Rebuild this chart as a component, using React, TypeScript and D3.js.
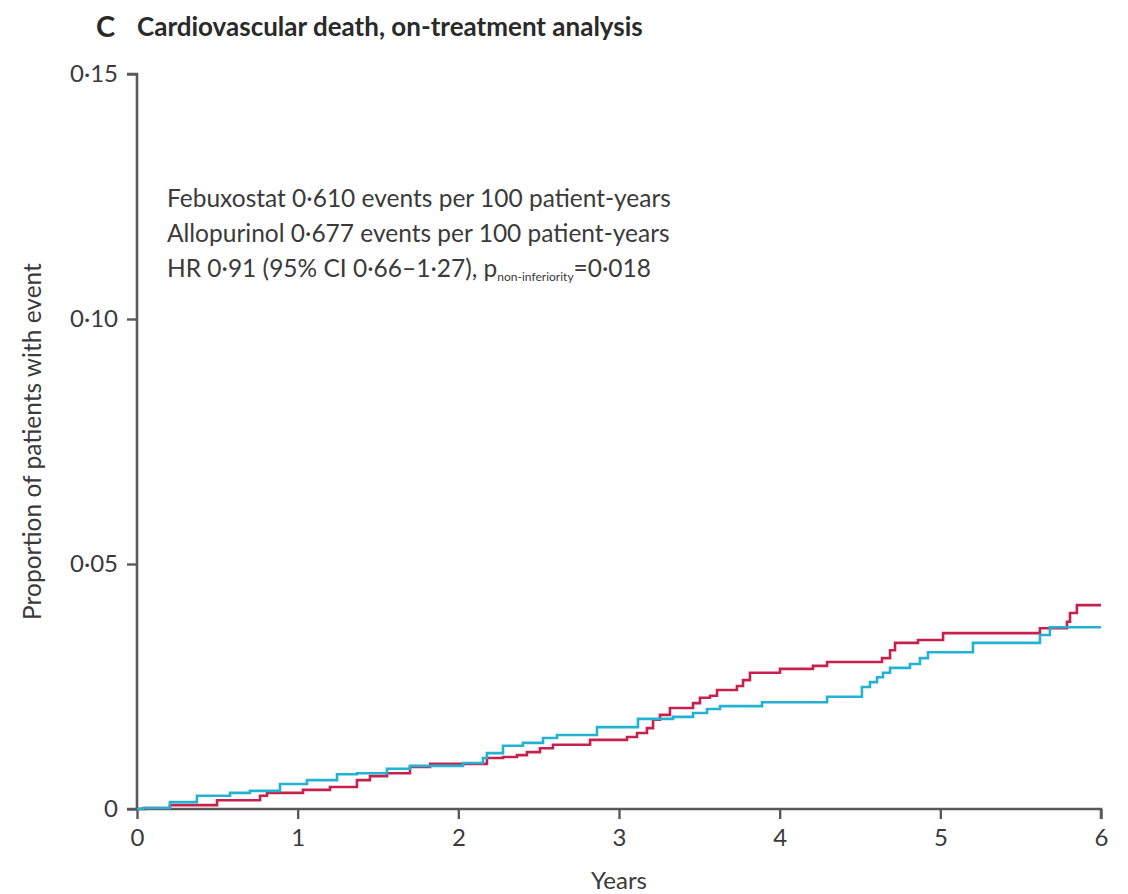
import React, { useEffect, useRef } from "react";
import * as d3 from "d3";

// Cumulative proportion with event (step points: [years, proportion])
const febuxostatYears = [0, 0.037, 0.205, 0.373, 0.579, 0.703, 0.89, 1.058, 1.245, 1.369, 1.556, 1.699, 2.029, 2.153, 2.178, 2.278, 2.402, 2.527, 2.614, 2.863, 3.118, 3.336, 3.461, 3.548, 3.629, 3.89, 4.295, 4.512, 4.562, 4.606, 4.643, 4.687, 4.811, 4.873, 4.923, 5.203, 5.62, 5.682, 6.0];
const febuxostatValues = [0, 0.0002, 0.0014, 0.0027, 0.0033, 0.0037, 0.0051, 0.0059, 0.0071, 0.0073, 0.0082, 0.0088, 0.0094, 0.0104, 0.0114, 0.0129, 0.0135, 0.0145, 0.0151, 0.0167, 0.0184, 0.0188, 0.0196, 0.0204, 0.021, 0.0218, 0.0229, 0.0249, 0.0259, 0.0269, 0.0278, 0.0288, 0.0296, 0.0308, 0.032, 0.0339, 0.0355, 0.0371, 0.0371];

const allopurinolYears = [0, 0.05, 0.205, 0.498, 0.766, 0.809, 1.033, 1.201, 1.369, 1.45, 1.556, 1.699, 1.824, 2.178, 2.278, 2.365, 2.427, 2.508, 2.589, 2.82, 3.05, 3.112, 3.174, 3.212, 3.255, 3.317, 3.461, 3.504, 3.566, 3.61, 3.734, 3.772, 3.815, 4.002, 4.207, 4.295, 4.637, 4.687, 4.718, 4.861, 5.017, 5.62, 5.788, 5.807, 5.85, 6.0];
const allopurinolValues = [0, 0.0002, 0.0008, 0.0018, 0.0027, 0.0033, 0.0039, 0.0045, 0.0059, 0.0067, 0.0073, 0.0086, 0.0092, 0.0104, 0.0106, 0.011, 0.0116, 0.0124, 0.0131, 0.0141, 0.0147, 0.0155, 0.0165, 0.0182, 0.0192, 0.0206, 0.0216, 0.0227, 0.0231, 0.0243, 0.0251, 0.0263, 0.0278, 0.0286, 0.0292, 0.03, 0.0308, 0.0324, 0.0339, 0.0345, 0.0359, 0.0369, 0.0382, 0.04, 0.0416, 0.0416];

const xTicks = [0, 1, 2, 3, 4, 5, 6];
const yTicks = [0, 0.05, 0.1, 0.15];
const yTickLabels = ["0", "0·05", "0·10", "0·15"];

const annotationLines = [
  "Febuxostat 0·610 events per 100 patient-years",
  "Allopurinol 0·677 events per 100 patient-years",
];

const W = 1128;
const H = 894;
const FONT = "Lato, 'Open Sans', sans-serif";
const AXIS = "#595959";
const TEXT = "#3a3a3a";
const RED = "#c8204c";
const CYAN = "#24b2d3";

export default function App() {
  const ref = useRef<SVGSVGElement | null>(null);

  useEffect(() => {
    const svg = d3.select(ref.current);
    svg.selectAll("*").remove();

    const x = d3.scaleLinear().domain([0, 6]).range([137, 1101]);
    const y = d3.scaleLinear().domain([0, 0.15]).range([809, 74]);

    svg.append("rect").attr("width", W).attr("height", H).attr("fill", "#fff");

    // Panel letter and title
    svg.append("text").attr("x", 96).attr("y", 37).attr("font-family", FONT)
      .attr("font-size", 29).attr("font-weight", 700).attr("fill", "#2a2a2a").text("C");
    svg.append("text").attr("x", 137).attr("y", 36).attr("font-family", FONT)
      .attr("font-size", 26).attr("font-weight", 700).attr("fill", "#2a2a2a")
      .text("Cardiovascular death, on-treatment analysis");

    // Y axis
    const yAxis = d3.axisLeft(y).tickValues(yTicks).tickSize(10).tickFormat((_, i) => yTickLabels[i]);
    const gy = svg.append("g").attr("transform", `translate(${x(0)},0)`).call(yAxis);
    gy.select(".domain").attr("stroke", AXIS).attr("stroke-width", 2.6).attr("d", `M-10,${y(0.15)}H0V${y(0)}`);
    gy.selectAll(".tick line").attr("stroke", AXIS).attr("stroke-width", 2.4);
    gy.selectAll(".tick text").attr("font-family", FONT).attr("font-size", 24).attr("fill", TEXT).attr("x", -19);

    // X axis
    const xAxis = d3.axisBottom(x).tickValues(xTicks).tickSize(10).tickFormat(d3.format("d"));
    const gx = svg.append("g").attr("transform", `translate(0,${y(0)})`).call(xAxis);
    gx.select(".domain").attr("stroke", AXIS).attr("stroke-width", 2.6).attr("d", `M${x(0) - 10},0H${x(6)}V10`);
    gx.selectAll(".tick line").attr("stroke", AXIS).attr("stroke-width", 2.4);
    gx.selectAll(".tick text").attr("font-family", FONT).attr("font-size", 24).attr("fill", TEXT)
      .attr("y", 37).attr("dy", null);

    // Axis titles
    svg.append("text").attr("x", x(3)).attr("y", 889).attr("text-anchor", "middle")
      .attr("font-family", FONT).attr("font-size", 24).attr("fill", TEXT).text("Years");
    svg.append("text").attr("transform", `translate(41,${(258 + 625) / 2}) rotate(-90)`).attr("text-anchor", "middle")
      .attr("font-family", FONT).attr("font-size", 24.5).attr("fill", TEXT).text("Proportion of patients with event");

    // Rates and hazard ratio
    annotationLines.forEach((t, i) => {
      svg.append("text").attr("x", 167).attr("y", 207 + i * 35).attr("font-family", FONT)
        .attr("font-size", 24.5).attr("fill", TEXT).text(t);
    });
    const hr = svg.append("text").attr("x", 167).attr("y", 277).attr("font-family", FONT).attr("font-size", 24.5).attr("fill", TEXT);
    hr.append("tspan").text("HR 0·91 (95% CI 0·66–1·27), p");
    hr.append("tspan").attr("font-size", 12).attr("dy", 4).text("non-inferiority");
    hr.append("tspan").attr("dy", -4).text("=0·018");

    // Kaplan–Meier style step curves
    const line = d3.line<[number, number]>().x((d) => x(d[0])).y((d) => y(d[1])).curve(d3.curveStepAfter);
    const series = [
      { xs: allopurinolYears, vs: allopurinolValues, color: RED },
      { xs: febuxostatYears, vs: febuxostatValues, color: CYAN },
    ];
    series.forEach((s) => {
      const pts = s.xs.map((v, i) => [v, s.vs[i]] as [number, number]);
      svg.append("path").datum(pts).attr("d", line).attr("fill", "none")
        .attr("stroke", s.color).attr("stroke-width", 2.6).attr("stroke-linejoin", "miter");
    });
  }, []);

  return <svg ref={ref} width={W} height={H} style={{ position: "absolute", left: 0, top: 0 }} />;
}
